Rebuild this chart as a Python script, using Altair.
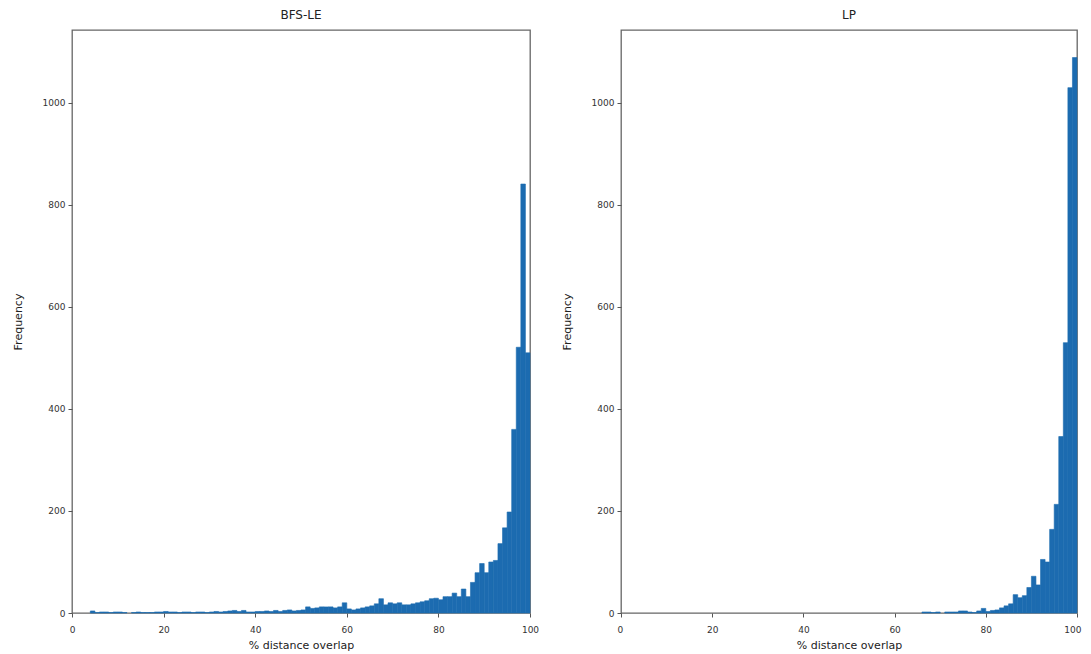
import altair as alt
import pandas as pd

bin_start = list(range(100))

bfs_le_counts = [
    0, 0, 0, 0, 4, 1, 2, 2, 1, 2,
    2, 1, 0, 1, 2, 1, 1, 1, 2, 2,
    3, 2, 2, 1, 2, 2, 1, 2, 2, 1,
    2, 3, 2, 3, 4, 5, 3, 5, 2, 2,
    3, 3, 4, 3, 5, 3, 5, 6, 4, 5,
    6, 12, 9, 10, 12, 12, 12, 10, 12, 20,
    8, 6, 8, 10, 12, 14, 18, 28, 16, 20,
    18, 20, 16, 16, 18, 20, 22, 24, 28, 29,
    26, 32, 32, 39, 32, 47, 32, 60, 79, 97,
    79, 100, 103, 136, 167, 198, 360, 521, 841, 510,
]

lp_counts = [0] * 66 + [
    2, 2, 1, 2, 0, 2, 2, 2, 4, 4,
    2, 1, 4, 9, 3, 5, 6, 10, 14, 18,
    36, 30, 34, 50, 72, 55, 105, 100, 164, 213,
    346, 530, 1030, 1089,
]

titles = ["BFS-LE", "LP"]
x_ticks = [0, 20, 40, 60, 80, 100]
y_ticks = [0, 200, 400, 600, 800, 1000]

BAR = "#1c6bb0"
FONT = "DejaVu Sans"


def panel(counts, title, width, flush):
    df = pd.DataFrame({
        "start": bin_start,
        "end": [b + 1 for b in bin_start],
        "count": counts,
    })
    df = df[df["count"] > 0]
    flush_opts = {"labelFlush": True, "labelFlushOffset": 4} if flush else {"labelFlush": False}
    return (
        alt.Chart(df, title=alt.TitleParams(title, fontSize=12, fontWeight="normal",
                                            font=FONT, color="#222", offset=8))
        .mark_rect(color=BAR, stroke=BAR, strokeWidth=0.6)
        .encode(
            x=alt.X("start:Q", scale=alt.Scale(domain=[0, 100], nice=False, zero=False),
                    axis=alt.Axis(values=x_ticks, title="% distance overlap", grid=False,
                                  domain=False, tickColor="#555", tickSize=4,
                                  labelFont=FONT, labelFontSize=9, labelColor="#333",
                                  titleFont=FONT, titleFontSize=11, titleFontWeight="normal",
                                  titleColor="#222", titlePadding=5, labelPadding=8,
                                  **flush_opts)),
            x2="end:Q",
            y=alt.Y("count:Q", scale=alt.Scale(domain=[0, 1143], nice=False),
                    axis=alt.Axis(values=y_ticks, format="d", title="Frequency", grid=False,
                                  domain=False, tickColor="#555", tickSize=4,
                                  labelFont=FONT, labelFontSize=9, labelColor="#333",
                                  titleFont=FONT, titleFontSize=11, titleFontWeight="normal",
                                  titleColor="#222", titlePadding=19, labelPadding=3)),
            y2=alt.datum(0),
        )
        .properties(width=width, height=583)
    )


chart = (
    alt.hconcat(panel(bfs_le_counts, titles[0], 458, False),
                panel(lp_counts, titles[1], 456, True),
                spacing=20)
    .configure_view(stroke="#666", strokeWidth=1.3)
    .properties(padding={"left": 3, "top": 0, "right": 0, "bottom": 0})
)

chart.save("out.html", embed_options={"renderer": "svg", "actions": False})
